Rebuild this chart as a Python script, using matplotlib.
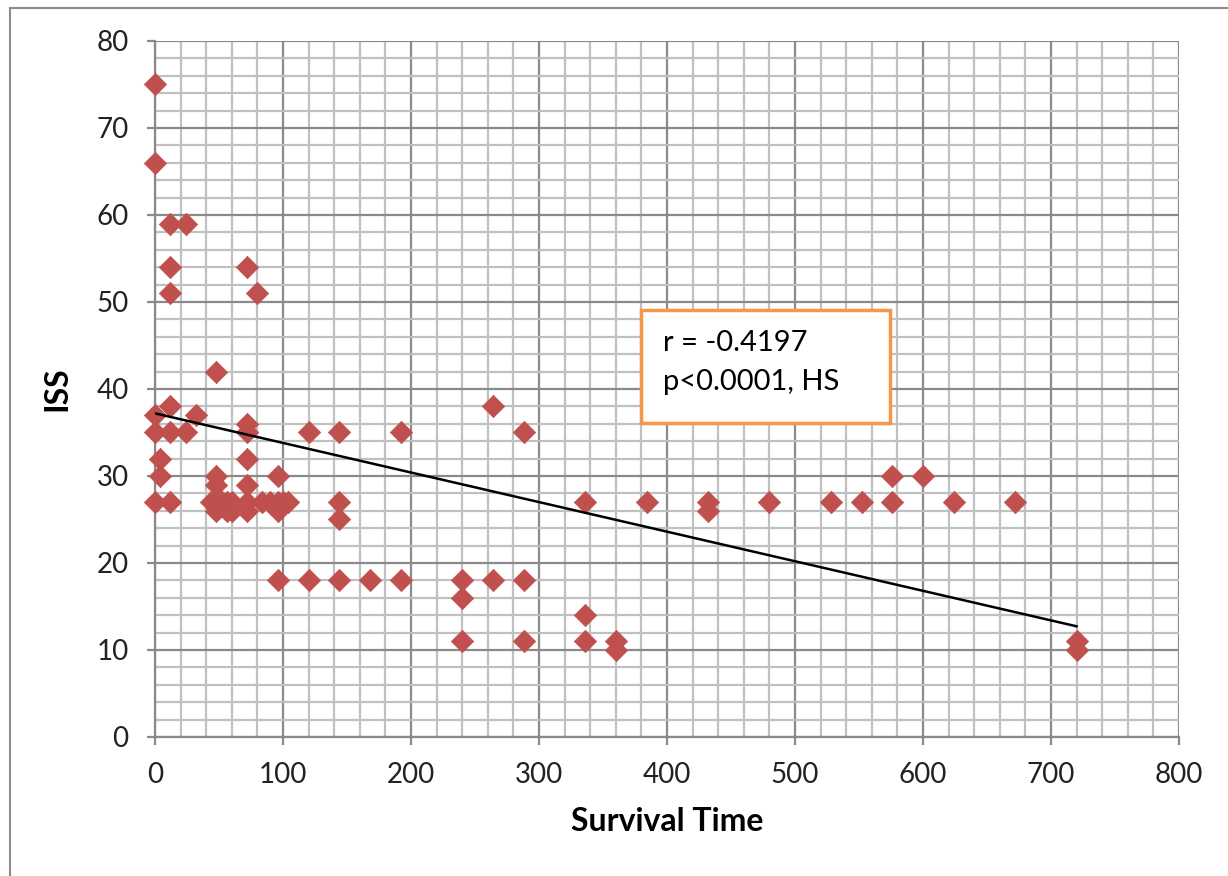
import numpy as np
import matplotlib
matplotlib.use("Agg")
from matplotlib import pyplot as plt
from matplotlib.patches import Rectangle
from matplotlib.ticker import MultipleLocator

plt.rcParams["font.family"] = ["Lato", "DejaVu Sans"]

# survival time (hours) vs ISS
czas = [0, 0, 12, 24, 12, 12, 72, 80,
        48, 12, 0, 32, 0, 12, 24, 72, 72, 120, 144, 192, 264, 288,
        4, 72, 4, 48, 48, 72, 96,
        0, 12, 44, 48, 52, 56, 60, 72, 84, 90, 96, 100, 104,
        48, 56, 60, 72, 96, 144, 144,
        96, 120, 144, 168, 192, 240, 264, 288, 240,
        240, 288, 336, 336, 360, 360,
        336, 384, 432, 432, 480, 528, 552, 576, 576, 600, 624, 672,
        720, 720]
iss = [75, 66, 59, 59, 54, 51, 54, 51,
       42, 38, 37, 37, 35, 35, 35, 36, 35, 35, 35, 35, 38, 35,
       32, 32, 30, 30, 29, 29, 30,
       27, 27, 27, 27, 27, 27, 27, 27, 27, 27, 27, 27, 27,
       26, 26, 26, 26, 26, 27, 25,
       18, 18, 18, 18, 18, 18, 18, 18, 16,
       11, 11, 14, 11, 11, 10,
       27, 27, 27, 26, 27, 27, 27, 27, 30, 30, 27, 27,
       11, 10]

# linia trendu (Excel)
trend_nachylenie = -0.034
trend_wyraz_wolny = 37.2

opis = ["r = -0.4197", "p<0.0001, HS"]

fig = plt.figure(figsize=(12.28, 8.76), dpi=100)
ax = fig.add_axes([0.1262, 0.1587, 0.8339, 0.7945])

# ramka wykresu (jak w Excelu) - prawa i dolna krawedz poza obrazkiem
fig.patches.append(Rectangle((10 / 1228, -0.05), 1.2, 1 - 8 / 876 + 0.05,
                             transform=fig.transFigure, fill=False,
                             edgecolor="#8c8c8c", lw=1.5))

ax.set_xlim(0, 800)
ax.set_ylim(0, 80)
ax.xaxis.set_major_locator(MultipleLocator(100))
ax.xaxis.set_minor_locator(MultipleLocator(20))
ax.yaxis.set_major_locator(MultipleLocator(10))
ax.yaxis.set_minor_locator(MultipleLocator(2))
ax.grid(which="minor", color="#c0c0c0", lw=1.6, zorder=0)
ax.grid(which="major", color="#8a8a8a", lw=1.6, zorder=0)
ax.set_axisbelow(True)

for s in ["top", "right"]:
    ax.spines[s].set_visible(False)
for s in ["left", "bottom"]:
    ax.spines[s].set_color("#8a8a8a")
    ax.spines[s].set_linewidth(1.6)

ax.tick_params(which="major", direction="out", length=6, width=1.6,
               color="#8a8a8a", labelsize=20, labelcolor="#222222")
ax.tick_params(axis="x", pad=12)
ax.tick_params(axis="y", pad=13)
ax.tick_params(which="minor", length=0)

ax.scatter(czas, iss, marker="D", s=130, color="#c0504d", edgecolors="#c0504d",
           lw=0.5, zorder=3, clip_on=False)

xs = np.array([min(czas), max(czas)])
ax.plot(xs, trend_nachylenie * xs + trend_wyraz_wolny, color="black", lw=1.8, zorder=4)

ax.set_xlabel("Survival Time", fontsize=23, fontweight="bold", labelpad=14)
ax.set_ylabel("ISS", fontsize=23, fontweight="bold", labelpad=18)

ax.add_patch(Rectangle((0.4746, 0.4511), 0.2432, 0.1624, transform=ax.transAxes,
                       facecolor="white", edgecolor="#f79646", lw=2.5, zorder=5))
ax.text(0.4963, 0.566, opis[0], transform=ax.transAxes, fontsize=21,
        va="center", ha="left", zorder=6)
ax.text(0.4963, 0.510, opis[1], transform=ax.transAxes, fontsize=21,
        va="center", ha="left", zorder=6)

plt.savefig("out.png", dpi=100)
